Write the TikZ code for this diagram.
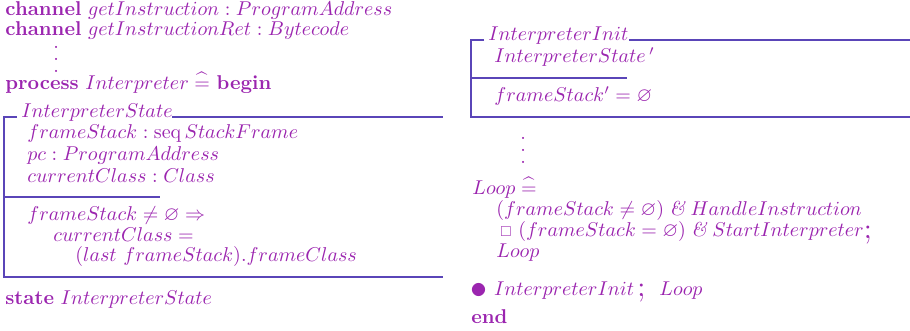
\documentclass[tikz,border=0pt]{standalone}
\usepackage{amsmath,amssymb,graphicx}
\definecolor{zpurple}{HTML}{9B25AF}
\definecolor{zline}{HTML}{5A45B8}
% definition symbol, large sequential-composition semicolon and the main-action spot
\newcommand{\defeq}{\mathrel{\widehat{\raisebox{0pt}[6.3pt][0pt]{$=$}}}}
\newcommand{\bigsemi}{\raisebox{-0.6pt}{\scalebox{1.45}{$;$}}}
\newcommand{\spotmark}{\mathord{\raisebox{-1.7pt}{\scalebox{1.7}{$\bullet$}}}}
\newcommand{\guardamp}{\mathrel{\textit{\&}}}
\newcommand{\extch}{\mathbin{\raisebox{0.5pt}{\scalebox{0.72}{$\square$}}}}
% widely spaced vertical ellipsis
\newcommand{\elided}{\vbox{\baselineskip=6pt\lineskiplimit=-10pt\hbox{.}\hbox{.}\hbox{.}}}
\begin{document}
\begin{tikzpicture}[x=0.5pt,y=-0.5pt,
  txt/.style={anchor=base west,inner sep=0pt,text=zpurple,font=\fontsize{10}{12}\selectfont},
  rule/.style={draw=zline,line width=0.6pt},
]
\useasboundingbox (0,0) rectangle (910,331);

% ---- left column: channels, process header, state schema ----
\node[txt] (ch1) at (5,16) {\textbf{channel}\ $getInstruction : ProgramAddress$};
\node[txt] (ch2) at (5,36) {\textbf{channel}\ $getInstructionRet : Bytecode$};
\node[txt] (dl) at (53,73) {\elided};
\node[txt] (proc) at (5,90) {\textbf{process}\ $Interpreter \defeq$ \textbf{begin}};

\node[txt] (st) at (21,118) {$InterpreterState$};
\node[txt] (d1) at (27,139) {$frameStack : \mathop{\mathrm{seq}} StackFrame$};
\node[txt] (d2) at (27,161) {$pc : ProgramAddress$};
\node[txt] (d3) at (27,183) {$currentClass : Class$};
\node[txt] (p1) at (27,221) {$frameStack \neq \varnothing \Rightarrow$};
\node[txt] (p2) at (53,242) {$currentClass =$};
\node[txt] (p3) at (75,262) {$(last\ frameStack).frameClass$};
\node[txt] (sv) at (5,305) {\textbf{state}\ $InterpreterState$};

\draw[rule] (17,117) -- (4,117) -- (4,277) -- (443,277);
\draw[rule] (172,117) -- (443,117);
\draw[rule] (4,197) -- (160,197);

% ---- right column: initialisation schema and main action ----
\node[txt] (it) at (488,41) {$InterpreterInit$};
\node[txt] (i1) at (494,63) {$InterpreterState\,{}'$};
\node[txt] (i2) at (494,102) {$frameStack' = \varnothing$};

\draw[rule] (484,40) -- (471,40) -- (471,117) -- (910,117);
\draw[rule] (629,40) -- (910,40);
\draw[rule] (471,78) -- (627,78);

\node[txt] (dr) at (520,164) {\elided};
\node[txt] (lp) at (472,195) {$Loop \defeq$};
\node[txt] (l1) at (496,216) {$(frameStack \neq \varnothing) \guardamp HandleInstruction$};
\node[txt] (l2) at (500,237) {$\extch\ (frameStack = \varnothing) \guardamp StartInterpreter$\bigsemi};
\node[txt] (l3) at (496,258) {$Loop$};
\node[txt] (ma) at (470,295) {$\spotmark\ InterpreterInit$\,\bigsemi\hspace{7pt}$Loop$};
\node[txt] (en) at (471,323) {\textbf{end}};
\end{tikzpicture}
\end{document}
